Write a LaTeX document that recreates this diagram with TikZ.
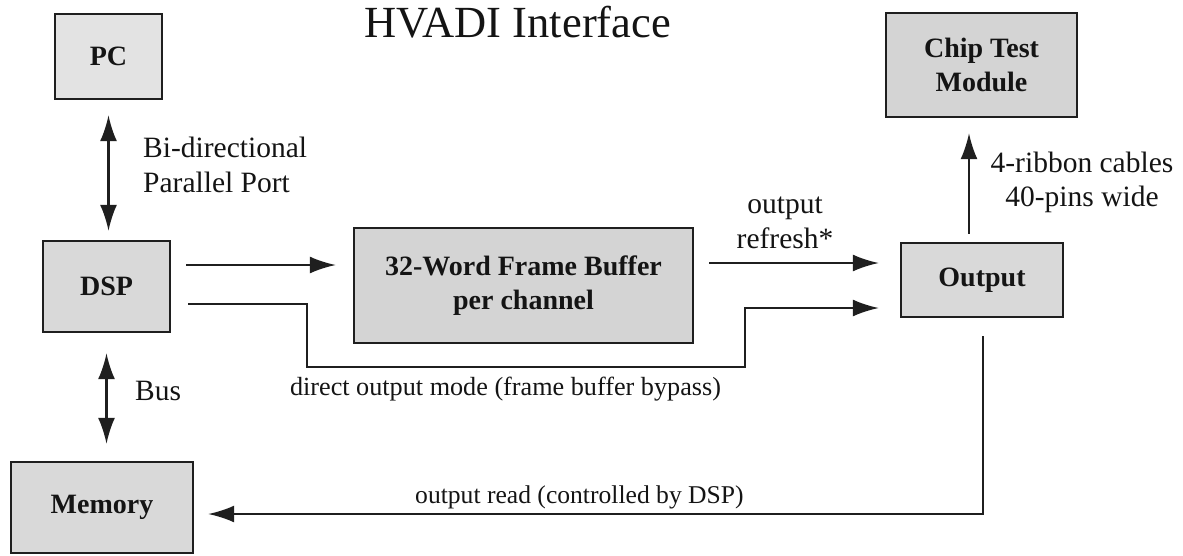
\documentclass[tikz,border=0pt]{standalone}
\usepackage{fontspec}
\setmainfont{Liberation Serif}
\usetikzlibrary{arrows.meta,calc}
\begin{document}
\begin{tikzpicture}[x=1pt,y=-1pt,
  box/.style={draw=black!88, line width=2.4pt, fill=black!15, inner sep=0pt,
    align=center, text=black!92, font=\fontsize{28}{33.5}\selectfont\bfseries},
  link/.style={line width=2.1pt, draw=black!88},
  tip/.style={-{Latex[length=26pt,width=17pt]}},
  dtip/.style={{Latex[length=26pt,width=17pt]}-{Latex[length=26pt,width=17pt]}},
  lbl/.style={inner sep=0pt, text=black!92, font=\fontsize{29.5}{35}\selectfont},
  small/.style={inner sep=0pt, text=black!92, font=\fontsize{26.2}{31}\selectfont},
]
\useasboundingbox (0,0) rectangle (1183,555);

% title
\node[inner sep=0pt, anchor=base, text=black!92, font=\fontsize{44.5}{50}\selectfont] (title) at (517.5,37) {HVADI Interface};

% blocks
\node[box, fill=black!11, minimum width=107pt, minimum height=85pt] (pc) at (108.5,56.5) {PC};
\node[box, minimum width=127pt, minimum height=91pt] (dsp) at (106.5,286.5) {DSP};
\node[box, minimum width=182pt, minimum height=91pt] (mem) at (102,507.5) {Memory};
\node[box, fill=black!17, minimum width=339pt, minimum height=115pt] (fb) at (523.5,285.5) {32-Word Frame Buffer\\per channel};
\node[box, minimum width=162pt, minimum height=74pt] (out) at (982,280) {Output};
\node[box, fill=black!17, minimum width=191pt, minimum height=104pt] (ctm) at (981.5,65) {Chip Test\\Module};

% helper levels for the horizontal links
\coordinate (ya) at (0,265);
\coordinate (yb) at (0,263);
\coordinate (yc) at (0,304);
\coordinate (yd) at (0,308);
\coordinate (yr) at (0,514);
\coordinate (xc) at (969,0);
\coordinate (xr) at (983,0);
\coordinate (b1) at (307,304);
\coordinate (b2) at (307,367);
\coordinate (b3) at (745,367);
\coordinate (b4) at (745,308);

% connectors
\draw[link, dtip, shorten <=15pt, shorten >=9pt] (pc.south) -- (pc.south |- dsp.north);
\draw[link, dtip, shorten <=20pt, shorten >=17pt] (dsp.south) -- (dsp.south |- mem.north);
\draw[link, tip, shorten <=15pt, shorten >=17pt] (dsp.east |- ya) -- (fb.west |- ya);
\draw[link, tip, shorten <=15pt, shorten >=21pt] (fb.east |- yb) -- (out.west |- yb);
\draw[link, tip, shorten <=17pt, shorten >=21pt] (dsp.east |- yc) -- (b1) -- (b2) -- (b3) -- (b4) -- (out.west |- yd);
\draw[link, tip, shorten <=8pt, shorten >=15pt] (out.north -| xc) -- (ctm.south -| xc);
\draw[link, tip, shorten <=18pt, shorten >=14pt] (out.south -| xr) -- (xr |- yr) -- (mem.east |- yr);

% labels
\node[lbl, anchor=base west] (l1) at (143,157) {Bi-directional};
\node[lbl, anchor=base west] (l2) at (143,192) {Parallel Port};
\node[lbl, anchor=base west] (l3) at (135,400) {Bus};
\node[lbl, anchor=base] (l4) at (785,213) {output};
\node[lbl, anchor=base] (l5) at (785,248) {refresh*};
\node[lbl, anchor=base] (l6) at (1082,172) {4-ribbon cables};
\node[lbl, anchor=base] (l7) at (1082,206) {40-pins wide};
\node[small, anchor=base] (l8) at (505.5,395) {direct output mode (frame buffer bypass)};
\node[small, font=\fontsize{25.6}{31}\selectfont, anchor=base west] (l9) at (415,503) {output read (controlled by DSP)};
\end{tikzpicture}
\end{document}
